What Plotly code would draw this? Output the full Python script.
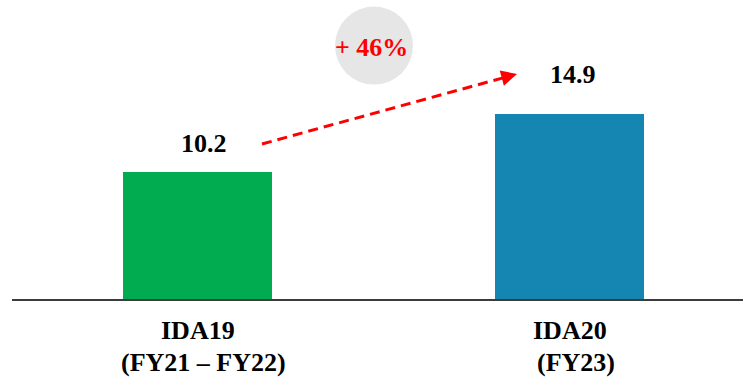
import plotly.graph_objects as go

# ---- data ----
categories = ["IDA19", "IDA20"]
periods = ["(FY21 – FY22)", "(FY23)"]
values = [10.2, 14.9]
bar_colors = ["#00AC4F", "#1585B1"]

growth_pct = round((values[1] / values[0] - 1) * 100)
growth_label = f"+ {growth_pct}%"

# ---- geometry ----
W, H = 743, 377
ML, MR, MT, MB = 12, 0, 0, 78
PX_PER_UNIT = 12.43
PX_PER_CAT = 372
X0_PX = 185.5  # px from plot-area left to category 0 centre

plot_w = W - ML - MR
plot_h = H - MT - MB
x_range = [-X0_PX / PX_PER_CAT, (plot_w - X0_PX) / PX_PER_CAT]
y_range = [0, plot_h / PX_PER_UNIT]


def px2x(px):
    return (px - ML - X0_PX) / PX_PER_CAT


def py2y(py):
    return (H - MB - py) / PX_PER_UNIT


FONT = "Liberation Serif"
RED = "#FF0000"

xpos = list(range(len(categories)))

fig = go.Figure()
fig.add_trace(go.Bar(
    x=xpos, y=values, width=0.4,
    marker=dict(color=bar_colors, line=dict(width=0)),
    hoverinfo="skip", showlegend=False,
))

# dashed growth arrow (shaft)
start_px, tip_px = (262, 144), (517, 74)
dx, dy = tip_px[0] - start_px[0], tip_px[1] - start_px[1]
L = (dx * dx + dy * dy) ** 0.5
ux, uy = dx / L, dy / L
head_len = 14
end_px = (tip_px[0] - ux * head_len, tip_px[1] - uy * head_len)
fig.add_trace(go.Scatter(
    x=[px2x(start_px[0]), px2x(end_px[0])],
    y=[py2y(start_px[1]), py2y(end_px[1])],
    mode="lines", line=dict(color=RED, width=3, dash="10px,6px"),
    hoverinfo="skip", showlegend=False,
))

annotations = []
# arrow head
annotations.append(dict(
    x=px2x(tip_px[0]), y=py2y(tip_px[1]), xref="x", yref="y",
    text="", showarrow=True, arrowhead=2, arrowsize=1.05, arrowwidth=3,
    arrowcolor=RED, ax=-ux * 10, ay=-uy * 10,
))

# value labels
val_xshift = [6, 3.5]
val_yshift = [28.5, 38.8]
for i, v in enumerate(values):
    annotations.append(dict(
        x=xpos[i], y=v, xref="x", yref="y", text=f"<b>{v}</b>",
        showarrow=False, yanchor="middle", xanchor="center",
        xshift=val_xshift[i], yshift=val_yshift[i],
        font=dict(family=FONT, size=26, color="#000000"),
    ))

# category labels
for i, (c, p) in enumerate(zip(categories, periods)):
    annotations.append(dict(
        x=xpos[i], y=0, xref="x", yref="y", text=f"<b>{c}</b>",
        showarrow=False, yanchor="middle", xanchor="center", yshift=-31.5,
        font=dict(family=FONT, size=26, color="#000000"),
    ))
    annotations.append(dict(
        x=xpos[i], y=0, xref="x", yref="y", text=f"<b>{p}</b>",
        showarrow=False, yanchor="middle", xanchor="center", yshift=-63.2, xshift=6,
        font=dict(family=FONT, size=26, color="#000000"),
    ))

# growth bubble label
annotations.append(dict(
    x=px2x(371), y=py2y(47.2), xref="x", yref="y", text=f"<b>{growth_label}</b>",
    showarrow=False, yanchor="middle", xanchor="center",
    font=dict(family=FONT, size=26, color=RED),
))

circle_c = (374, 45.6)
R = 39
shapes = [dict(
    type="circle", xref="x", yref="y", xsizemode="pixel", ysizemode="pixel",
    xanchor=px2x(circle_c[0]), yanchor=py2y(circle_c[1]),
    x0=-R, x1=R, y0=-R, y1=R,
    fillcolor="#E6E6E6", line=dict(width=0), layer="below",
)]

fig.update_layout(
    width=W, height=H,
    font=dict(family=FONT),
    margin=dict(l=ML, r=MR, t=MT, b=MB, pad=0),
    paper_bgcolor="white", plot_bgcolor="white",
    xaxis=dict(range=x_range, showgrid=False, zeroline=False, showticklabels=False,
               ticks="", showline=True, linecolor="#3c3c3c", linewidth=2, fixedrange=True),
    yaxis=dict(range=y_range, visible=False, showgrid=False, zeroline=False, fixedrange=True),
    annotations=annotations, shapes=shapes,
    showlegend=False, bargap=0,
)

fig.write_html("out.html")
